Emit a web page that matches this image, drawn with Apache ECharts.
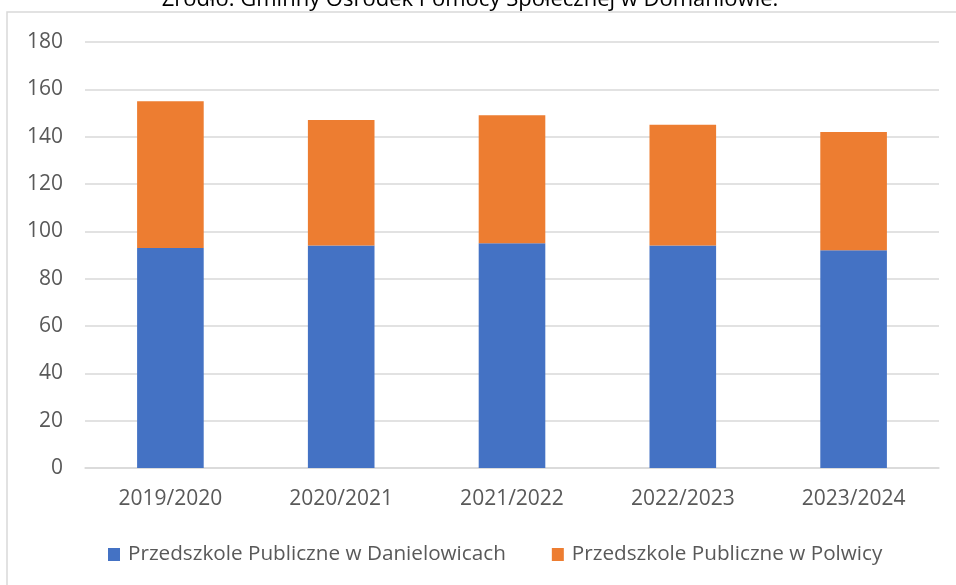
<!DOCTYPE html>
<html>
<head>
<meta charset="utf-8">
<script src="https://cdn.jsdelivr.net/npm/echarts@6/dist/echarts.min.js"></script>
<style>
html,body{margin:0;padding:0;background:#fff;}
#c{width:956px;height:585px;}
</style>
</head>
<body>
<div id="c"></div>
<script>
const categories = ['2019/2020', '2020/2021', '2021/2022', '2022/2023', '2023/2024'];
const danielowice = [93, 94, 95, 94, 92];
const polwica = [62, 53, 54, 51, 50];
const seriesNames = ['Przedszkole Publiczne w Danielowicach', 'Przedszkole Publiczne w Polwicy'];
const yTicks = [0, 20, 40, 60, 80, 100, 120, 140, 160, 180];
const sourceText = 'Źródło: Gminny Ośrodek Pomocy Społecznej w Domaniowie.';

const FONT = 'Open Sans';
const chart = echarts.init(document.getElementById('c'), null, {renderer: 'canvas'});
chart.setOption({
  animation: false,
  backgroundColor: '#ffffff',
  textStyle: {fontFamily: FONT},
  graphic: [
    {type: 'rect', shape: {x: 7, y: 12, width: 960, height: 600}, style: {fill: 'none', stroke: '#d9d9d9', lineWidth: 1.5}, z: -1},
    {type: 'text', style: {x: 470, y: 11, text: sourceText, fontSize: 22, fontFamily: FONT, fill: '#000', align: 'center', verticalAlign: 'bottom'}}
  ],
  grid: {left: 85, right: 17, top: 42, bottom: 117, containLabel: false},
  legend: {
    data: seriesNames,
    top: 539,
    left: 103,
    itemWidth: 12, itemHeight: 13, itemGap: 46,
    icon: 'rect',
    textStyle: {fontSize: 20.7, color: '#595959', fontFamily: FONT, padding: [0, 0, 0, 3]}
  },
  xAxis: {
    type: 'category',
    data: categories,
    axisLine: {lineStyle: {color: '#d9d9d9', width: 1.5}},
    axisTick: {show: false},
    axisLabel: {fontSize: 21, color: '#595959', margin: 21, fontFamily: FONT}
  },
  yAxis: {
    type: 'value',
    min: yTicks[0], max: yTicks[yTicks.length - 1], interval: 20,
    axisLine: {show: false},
    axisTick: {show: false},
    splitLine: {lineStyle: {color: '#d9d9d9', width: 1.5}},
    axisLabel: {fontSize: 21, color: '#595959', margin: 22, fontFamily: FONT}
  },
  series: [
    {name: seriesNames[0], type: 'bar', stack: 'a', data: danielowice, barWidth: '39%', itemStyle: {color: '#4472c4'}},
    {name: seriesNames[1], type: 'bar', stack: 'a', data: polwica, barWidth: '39%', itemStyle: {color: '#ed7d31'}}
  ]
});
</script>
</body>
</html>
